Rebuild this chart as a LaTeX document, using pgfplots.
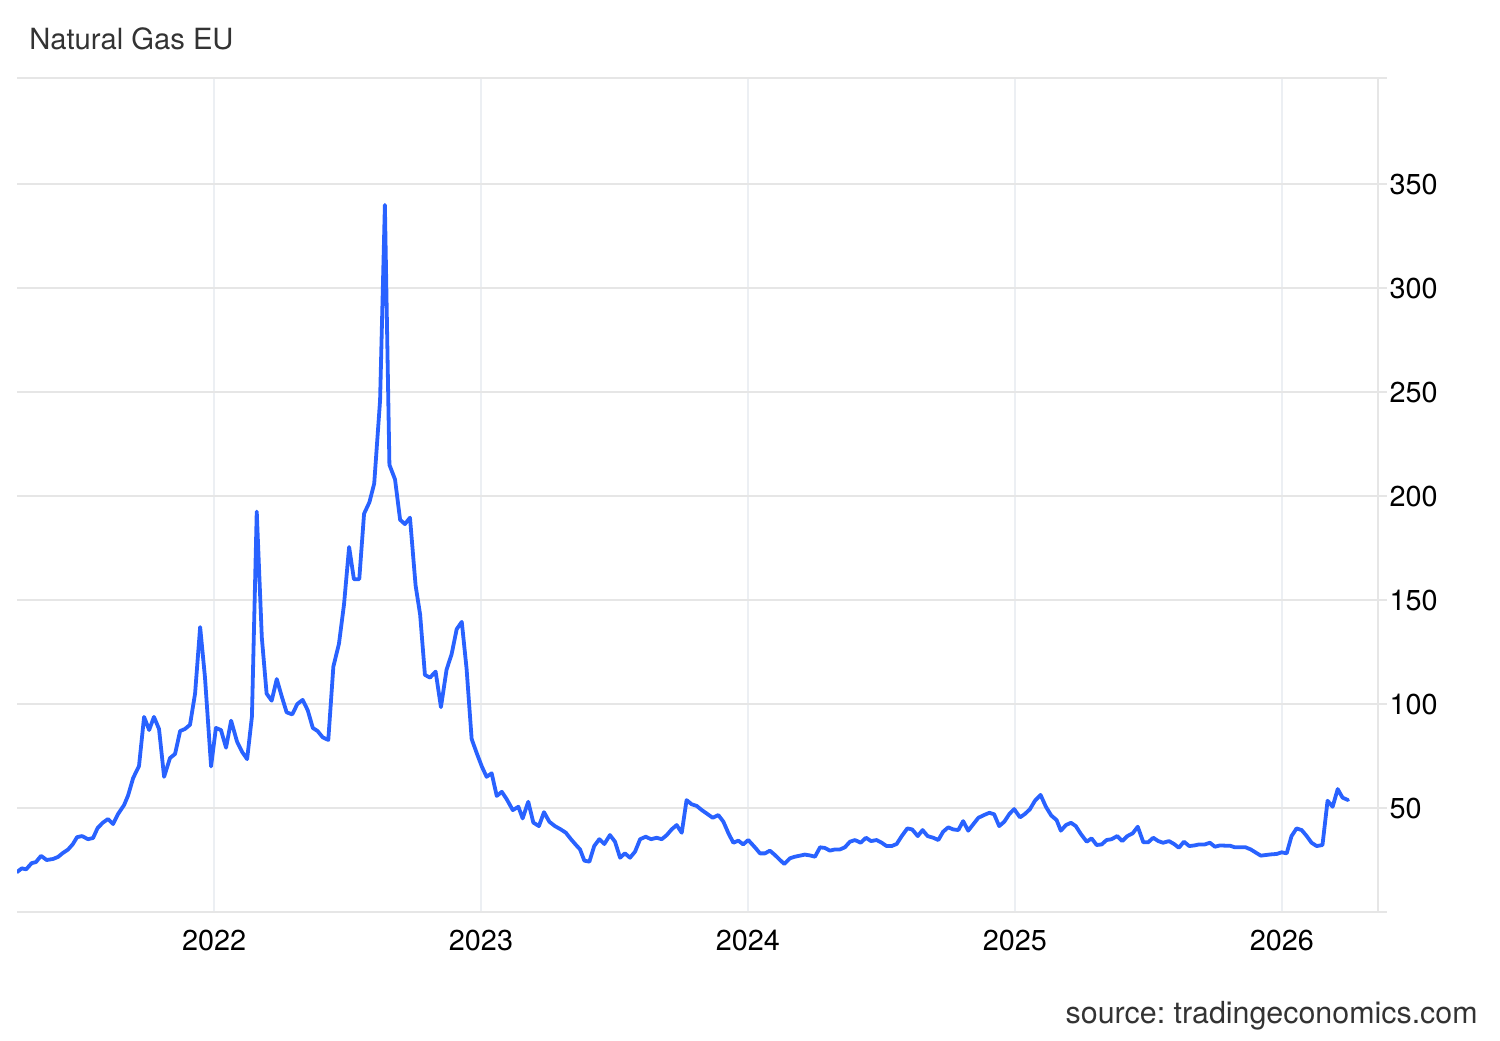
\documentclass[border=0pt]{standalone}
\usepackage{pgfplots}
\pgfplotsset{compat=1.18}
\usepackage{pgfplotstable}
\usepackage{fontspec}
\setmainfont{TeX Gyre Heros}
\frenchspacing
\definecolor{lineblue}{RGB}{41,98,255}
\definecolor{hgrid}{RGB}{230,230,230}
\definecolor{vgrid}{RGB}{236,239,243}
\definecolor{txtgray}{RGB}{51,51,51}
\pgfplotstableread{
x y
2021.262 19.2
2021.280 21
2021.296 20.5
2021.317 23.5
2021.333 24
2021.352 27
2021.373 25
2021.397 25.5
2021.416 26.5
2021.434 28.4
2021.453 30
2021.471 32.6
2021.487 36
2021.506 36.5
2021.528 35
2021.547 35.6
2021.564 40.4
2021.584 43
2021.603 44.7
2021.622 42.3
2021.640 47
2021.663 51.4
2021.678 56
2021.697 64.4
2021.719 70.2
2021.738 93.8
2021.757 87.5
2021.775 93.8
2021.794 88
2021.813 65
2021.835 74
2021.854 76
2021.873 87
2021.891 88
2021.910 90
2021.929 105
2021.948 137
2021.966 113
2021.989 70
2022.007 88.5
2022.026 87.5
2022.045 79
2022.064 92
2022.086 82
2022.105 77
2022.124 73.5
2022.142 94
2022.160 192.5
2022.179 132
2022.197 105
2022.216 101.6
2022.235 112
2022.254 103.5
2022.272 96
2022.293 95
2022.312 100
2022.332 102
2022.351 97
2022.370 88.5
2022.388 87
2022.407 84
2022.428 82.7
2022.447 118
2022.468 129
2022.487 148
2022.506 175.5
2022.524 160
2022.544 160
2022.562 191.5
2022.582 197
2022.600 206
2022.622 246
2022.640 340
2022.657 215
2022.678 208
2022.697 188.6
2022.715 186.5
2022.734 189.6
2022.755 157
2022.772 143
2022.790 114
2022.809 112.7
2022.830 115.6
2022.850 98.5
2022.871 116.5
2022.890 124
2022.909 136
2022.928 139.5
2022.946 117
2022.965 83.2
2022.984 76.4
2023.003 70
2023.021 65
2023.040 66.7
2023.059 55.8
2023.078 57.8
2023.096 54.3
2023.119 49
2023.140 50.6
2023.156 45
2023.177 53
2023.196 43
2023.217 41.3
2023.236 48
2023.256 43.4
2023.277 41.3
2023.299 39.7
2023.318 38.1
2023.337 35
2023.356 32.2
2023.371 30.1
2023.387 24.7
2023.406 24.2
2023.424 31.7
2023.443 35
2023.462 32.7
2023.483 37
2023.502 33.8
2023.521 26.1
2023.539 28.2
2023.558 26.1
2023.577 29
2023.596 35
2023.617 36.2
2023.637 35
2023.658 35.7
2023.677 35
2023.696 37
2023.714 39.7
2023.733 41.8
2023.752 38.1
2023.770 53.8
2023.789 51.8
2023.808 51
2023.827 49
2023.845 47.4
2023.868 45.3
2023.889 46.6
2023.908 43.4
2023.926 38.1
2023.945 33.3
2023.964 34.3
2023.982 32.5
2024.001 34.6
2024.026 31.1
2024.045 28.2
2024.064 28.2
2024.082 29.5
2024.101 27.4
2024.120 25
2024.136 23.1
2024.157 25.8
2024.176 26.6
2024.195 27.1
2024.213 27.6
2024.232 27.2
2024.251 26.6
2024.270 31.1
2024.288 30.8
2024.307 29.5
2024.326 30.1
2024.345 30.1
2024.363 31.1
2024.382 33.8
2024.401 34.6
2024.422 33.3
2024.442 35.7
2024.461 34.1
2024.482 34.6
2024.501 33.3
2024.519 31.7
2024.538 31.7
2024.557 32.7
2024.576 36.5
2024.597 40.2
2024.615 39.7
2024.636 36.5
2024.654 39.4
2024.673 36.5
2024.694 35.7
2024.713 34.6
2024.731 38.6
2024.750 40.7
2024.769 39.7
2024.788 39.4
2024.806 43.7
2024.825 39.1
2024.844 42.2
2024.863 45.3
2024.884 46.6
2024.904 47.7
2024.922 47
2024.941 41.3
2024.960 43.4
2024.979 47.1
2024.997 49.5
2025.019 45.5
2025.037 47.1
2025.056 49.4
2025.075 53.5
2025.096 56.3
2025.116 50.6
2025.136 46.4
2025.156 44.2
2025.172 39.1
2025.191 41.8
2025.210 42.9
2025.228 41.3
2025.247 37.5
2025.269 33.8
2025.287 35.4
2025.306 32.2
2025.325 32.5
2025.343 34.6
2025.362 35
2025.383 36.5
2025.402 34.1
2025.421 36.5
2025.441 37.8
2025.460 41
2025.481 33.5
2025.499 33.5
2025.518 35.7
2025.537 34.1
2025.555 33.3
2025.577 34.1
2025.596 32.7
2025.614 30.9
2025.633 33.8
2025.653 31.7
2025.672 32
2025.690 32.5
2025.712 32.5
2025.730 33.3
2025.749 31.4
2025.768 32
2025.787 31.9
2025.805 31.9
2025.824 31.1
2025.843 31.1
2025.864 31.1
2025.883 30.1
2025.903 28.5
2025.921 27.1
2025.940 27.4
2025.959 27.7
2025.980 27.9
2025.999 28.7
2026.018 28.2
2026.036 36.5
2026.055 40.2
2026.074 39.4
2026.093 36.5
2026.111 33.3
2026.130 31.7
2026.152 32.2
2026.171 53.5
2026.190 50.6
2026.209 59.1
2026.227 55
2026.248 53.8
}\gasdata
\begin{document}
\begin{tikzpicture}
\path[use as bounding box] (0,0) rectangle (750pt,520pt);
\begin{axis}[
  at={(8.5pt,64pt)}, anchor=south west,
  scale only axis, width=680.5pt, height=417pt,
  xmin=2021.262, xmax=2026.360,
  ymin=0, ymax=401,
  axis x line=bottom, axis y line=right,
  axis line style={-, draw=hgrid, line width=0.7pt},
  xtick={2022,2023,2024,2025,2026},
  ytick={50,100,150,200,250,300,350},
  extra y ticks={0,401},
  extra y tick labels={},
  extra y tick style={grid=major},
  xmajorgrids, ymajorgrids,
  x grid style={draw=vgrid, line width=0.7pt},
  y grid style={draw=hgrid, line width=0.7pt},
  tick align=outside,
  x tick style={draw=none},
  y tick style={draw=hgrid, line width=0.7pt},
  major tick length=4.4pt,
  /pgf/number format/assume math mode=true,
  /pgf/number format/1000 sep={},
  tick label style={font=\fontsize{14.4}{17}\selectfont, text=black, inner sep=0pt},
  yticklabel style={anchor=west, xshift=1.2pt},
  xticklabel style={anchor=north, yshift=-4.6pt},
  clip mode=individual,
]
\addplot[color=lineblue, line width=1.9pt, line join=round, line cap=round] table[x=x, y=y] {\gasdata};
\end{axis}
\node[anchor=base west, inner sep=0pt, text=txtgray, font=\fontsize{14.6}{17}\selectfont] at (14.5pt,495pt) {Natural Gas EU};
\node[anchor=base east, inner sep=0pt, text=txtgray, font=\fontsize{15.2}{18}\selectfont] at (739pt,8.5pt) {source: tradingeconomics.com};
\end{tikzpicture}
\end{document}
